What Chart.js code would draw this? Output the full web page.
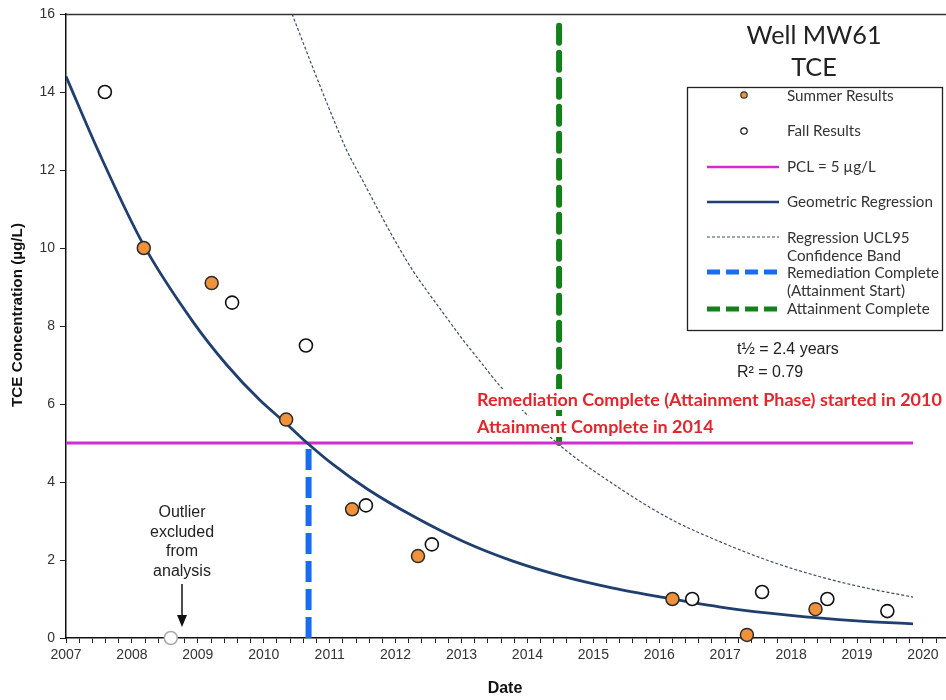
<!DOCTYPE html>
<html><head><meta charset="utf-8">
<script src="https://cdn.jsdelivr.net/npm/chart.js@4.4.1/dist/chart.umd.min.js"></script>
<style>html,body{margin:0;padding:0;background:#fff;overflow:hidden}#wrap{width:946px;height:700px;position:relative}</style>
</head><body><div id="wrap"><canvas id="c"></canvas></div>
<script>
// ---- data ----
const summerDates  = [2008.18, 2009.21, 2010.34, 2011.34, 2012.34, 2016.20, 2017.33, 2018.37];
const summerValues = [10.0, 9.1, 5.6, 3.3, 2.1, 1.0, 0.08, 0.74];
const fallDates    = [2007.59, 2009.52, 2010.64, 2011.55, 2012.55, 2016.50, 2017.56, 2018.55, 2019.46];
const fallValues   = [14.0, 8.6, 7.5, 3.4, 2.4, 1.0, 1.18, 1.0, 0.69];
const outlierDates  = [2008.59];
const outlierValues = [0];
const regressionDates  = [2007.0, 2007.5, 2008.17, 2008.93, 2009.44, 2009.94, 2010.34, 2010.66, 2011.05, 2011.57, 2012.27, 2013.02, 2013.78, 2014.54, 2015.3, 2016.06, 2016.98, 2017.99, 2019.0, 2019.85];
const regressionValues = [14.4, 12.45, 10.1, 8.1, 7.0, 6.1, 5.5, 5.0, 4.45, 3.82, 3.12, 2.48, 1.97, 1.58, 1.28, 1.04, 0.78, 0.58, 0.44, 0.36];
const uclDates  = [2010.43, 2010.75, 2011.01, 2011.26, 2011.51, 2011.76, 2012.02, 2012.27, 2012.52, 2012.78, 2013.02, 2013.28, 2013.59, 2014.45, 2015.3, 2016.17, 2016.92, 2017.68, 2018.44, 2019.2, 2019.85];
const uclValues = [16.0, 14.6, 13.5, 12.5, 11.7, 10.9, 10.1, 9.4, 8.8, 8.2, 7.65, 7.1, 6.45, 5.0, 3.95, 3.05, 2.47, 1.97, 1.57, 1.26, 1.05];
const pclDates  = [2007, 2019.85];
const pclValue  = 5;
const remediationDate = 2010.68;
const remediationValues = [0, 5];
const attainmentDate = 2014.48;
const attainmentValues = [15.7, 5];
const xMin = 2007, xMax = 2020.35, yMin = 0, yMax = 16;
const yTickStep = 2, xMinorStep = 0.2;

const pts = (xs, ys) => xs.map((x, i) => ({x, y: ys[i]}));

const SANS = '"Liberation Sans", Arial, sans-serif';
const CAL = 'Lato, "Open Sans", sans-serif';

function fitSize(ctx, text, family, weight, target) {
  ctx.font = weight + ' 100px ' + family;
  return 100 * target / ctx.measureText(text).width;
}

const decor = {
  id: 'decor',
  beforeDraw(chart) {
    const ctx = chart.ctx;
    ctx.save(); ctx.fillStyle = '#fff'; ctx.fillRect(0, 0, chart.width, chart.height); ctx.restore();
  },
  afterDatasetsDraw(chart) {
    const ctx = chart.ctx, a = chart.chartArea;
    ctx.save();
    // top frame line
    ctx.strokeStyle = '#333'; ctx.lineWidth = 1.5;
    ctx.beginPath(); ctx.moveTo(a.left, a.top + 0.5); ctx.lineTo(a.right, a.top + 0.5); ctx.stroke();

    // red annotation text with white background
    const red1 = 'Remediation Complete (Attainment Phase) started in 2010';
    const red2 = 'Attainment Complete in 2014';
    const rs = fitSize(ctx, red1, CAL, 'bold', 465);
    ctx.font = 'bold ' + rs.toFixed(2) + 'px ' + CAL;
    ctx.textBaseline = 'middle'; ctx.textAlign = 'left';
    [[red1, 400], [red2, 427]].forEach(([t, y]) => {
      const w = ctx.measureText(t).width;
      ctx.fillStyle = '#fff'; ctx.fillRect(475, y - 11, w + 4, 21);
      ctx.fillStyle = '#E3262E'; ctx.fillText(t, 477, y);
    });

    // half-life text
    ctx.fillStyle = '#222';
    ctx.font = '16px ' + SANS;
    ctx.fillText('t\u00BD = 2.4 years', 737, 350);
    ctx.fillText('R\u00B2 = 0.79', 737, 373);

    // title
    const ts = fitSize(ctx, 'Well MW61', CAL, 'normal', 135);
    ctx.font = ts.toFixed(2) + 'px ' + CAL;
    ctx.textAlign = 'center'; ctx.fillStyle = '#222';
    ctx.fillText('Well MW61', 814, 36);
    ctx.fillText('TCE', 814, 68);

    // legend
    ctx.fillStyle = '#fff'; ctx.fillRect(687, 87, 256, 243);
    ctx.strokeStyle = '#222'; ctx.lineWidth = 1.3; ctx.strokeRect(687.5, 87.5, 255, 243);
    const ls = fitSize(ctx, 'Geometric Regression', CAL, 'normal', 146);
    ctx.font = ls.toFixed(2) + 'px ' + CAL;
    ctx.textAlign = 'left'; ctx.fillStyle = '#333';
    const tx = 787;
    ctx.beginPath(); ctx.arc(744, 95, 3.2, 0, Math.PI * 2);
    ctx.fillStyle = '#F0923C'; ctx.fill(); ctx.strokeStyle = '#333'; ctx.lineWidth = 1.2; ctx.stroke();
    ctx.beginPath(); ctx.arc(744, 131, 3.2, 0, Math.PI * 2);
    ctx.fillStyle = '#fff'; ctx.fill(); ctx.strokeStyle = '#111'; ctx.stroke();
    const seg = (y, color, w, dash) => {
      ctx.save(); ctx.strokeStyle = color; ctx.lineWidth = w; ctx.setLineDash(dash);
      ctx.beginPath(); ctx.moveTo(707, y); ctx.lineTo(779, y); ctx.stroke(); ctx.restore();
    };
    seg(167, '#D12BD1', 2.5, []);
    seg(202, '#1F3F6E', 2.5, []);
    seg(237, '#3E4D66', 1, [3, 2]);
    seg(272, '#1A6BF0', 5, [13, 6]);
    seg(309, '#13801A', 5, [13, 6]);
    ctx.fillStyle = '#333';
    [['Summer Results', 96], ['Fall Results', 131], ['PCL = 5 \u00B5g/L', 167], ['Geometric Regression', 202],
     ['Regression UCL95', 238], ['Confidence Band', 256], ['Remediation Complete', 273], ['(Attainment Start)', 291],
     ['Attainment Complete', 309]].forEach(([t, y]) => ctx.fillText(t, tx, y));

    // outlier annotation
    ctx.fillStyle = '#222'; ctx.textAlign = 'center';
    ctx.font = '16px ' + SANS;
    [['Outlier', 513], ['excluded', 533], ['from', 552], ['analysis', 572]].forEach(([t, y]) => ctx.fillText(t, 182, y));
    ctx.strokeStyle = '#111'; ctx.lineWidth = 1.5;
    ctx.beginPath(); ctx.moveTo(182, 584); ctx.lineTo(182, 617); ctx.stroke();
    ctx.beginPath(); ctx.moveTo(182, 627); ctx.lineTo(177, 615); ctx.lineTo(187, 615); ctx.closePath();
    ctx.fillStyle = '#111'; ctx.fill();

    // axis titles
    ctx.fillStyle = '#111';
    const ys = fitSize(ctx, 'TCE Concentration (\u00B5g/L)', SANS, 'bold', 184);
    ctx.save(); ctx.translate(18, 315); ctx.rotate(-Math.PI / 2);
    ctx.font = 'bold ' + ys.toFixed(2) + 'px ' + SANS; ctx.textAlign = 'center'; ctx.textBaseline = 'middle';
    ctx.fillText('TCE Concentration (\u00B5g/L)', 0, 0);
    ctx.restore();
    ctx.font = 'bold 16px ' + SANS; ctx.textAlign = 'center';
    ctx.fillText('Date', 505, 689);
    ctx.restore();
  }
};

const chart = new Chart(document.getElementById('c'), {
  type: 'scatter',
  data: {
    datasets: [
      { label: 'Summer Results', data: pts(summerDates, summerValues), order: 1,
        pointRadius: 6.5, pointBackgroundColor: '#F0923C', pointBorderColor: '#2a2a2a', pointBorderWidth: 1.5, clip: false },
      { label: 'Fall Results', data: pts(fallDates, fallValues), order: 2,
        pointRadius: 6.5, pointBackgroundColor: '#fff', pointBorderColor: '#111', pointBorderWidth: 1.6, clip: false },
      { label: 'Outlier', data: pts(outlierDates, outlierValues), order: 3,
        pointRadius: 6.5, pointBackgroundColor: '#fff', pointBorderColor: '#aaa', pointBorderWidth: 1.5, clip: false },
      { label: 'Geometric Regression', data: pts(regressionDates, regressionValues), order: 4, showLine: true,
        borderColor: '#1F3F6E', borderWidth: 2.8, pointRadius: 0, cubicInterpolationMode: 'monotone' },
      { label: 'Remediation Complete', data: pts([remediationDate, remediationDate], remediationValues), order: 5, showLine: true,
        borderColor: '#1A6BF0', borderWidth: 6, borderDash: [21, 7], pointRadius: 0, clip: false },
      { label: 'PCL', data: pts(pclDates, [pclValue, pclValue]), order: 6, showLine: true,
        borderColor: '#D12BD1', borderWidth: 2.8, pointRadius: 0 },
      { label: 'Attainment Complete', data: pts([attainmentDate, attainmentDate], attainmentValues), order: 7, showLine: true,
        borderColor: '#13801A', borderWidth: 6, borderDash: [17, 10], borderCapStyle: 'round', pointRadius: 0 },
      { label: 'UCL95', data: pts(uclDates, uclValues), order: 8, showLine: true,
        borderColor: '#3E4D66', borderWidth: 1.2, borderDash: [3, 2], pointRadius: 0, cubicInterpolationMode: 'monotone' }
    ]
  },
  options: {
    responsive: true, maintainAspectRatio: false, animation: false, events: [],
    layout: { autoPadding: false, padding: { top: 14, left: 0, right: 0, bottom: 0 } },
    plugins: { legend: { display: false }, tooltip: { enabled: false } },
    scales: {
      x: {
        type: 'linear', min: xMin, max: xMax,
        afterFit: s => { s.height = 62; s.paddingLeft = 0; s.paddingRight = 0; },
        border: { display: true, color: '#111', width: 1.5 },
        grid: { drawOnChartArea: false, drawTicks: true, tickLength: 5, tickColor: '#222' },
        ticks: {
          stepSize: xMinorStep, includeBounds: false, autoSkip: false, maxRotation: 0, padding: 4,
          color: '#333', font: { family: SANS, size: 14 },
          callback: v => Math.abs(v - Math.round(v)) < 1e-6 ? String(Math.round(v)) : ''
        }
      },
      y: {
        min: yMin, max: yMax,
        afterFit: s => { s.width = 66; },
        border: { display: true, color: '#111', width: 1.5 },
        grid: { drawOnChartArea: false, drawTicks: true, tickLength: 6, tickColor: '#222' },
        ticks: { stepSize: yTickStep, padding: 5, color: '#333', font: { family: SANS, size: 14 } }
      }
    }
  },
  plugins: [decor]
});
</script>
</body></html>
